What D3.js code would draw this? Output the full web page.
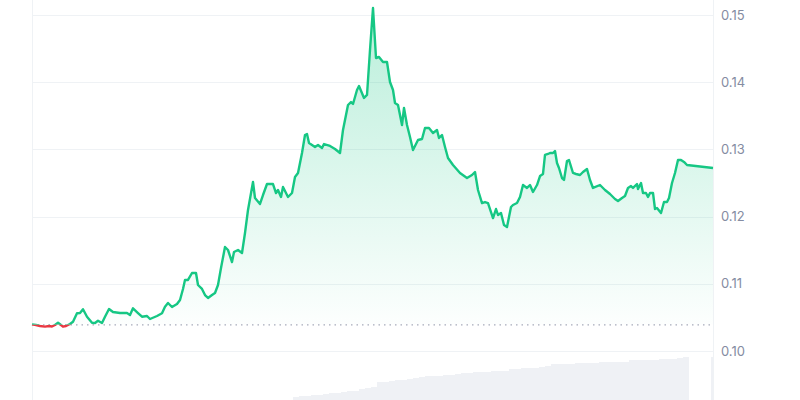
<!DOCTYPE html>
<html>
<head>
<meta charset="utf-8">
<script src="https://cdn.jsdelivr.net/npm/d3@7"></script>
<style>
  html, body { margin: 0; padding: 0; background: #fff; }
  svg { display: block; }
</style>
</head>
<body>
<div id="chart"></div>
<script>
// ---- data ----
const priceTimes = [0,4,8,13,17,20,23,26,29,31,34,36,38,41,45,48,51,55,60,63,66,70,73,77,81,88,95,98,101,106,110,115,118,125,130,133,136,140,145,148,151,153,156,160,164,166,170,173,176,180,183,186,189,193,196,200,202,206,210,213,216,221,223,228,231,235,241,244,246,249,251,256,260,263,266,270,273,275,277,283,286,290,292,298,303,308,311,316,319,321,325,327,332,335,338,341,344,347,351,355,358,361,363,366,370,372,375,378,381,386,390,393,397,401,405,407,410,413,416,421,428,435,440,443,446,450,453,456,461,464,466,469,472,475,479,481,485,488,491,495,498,501,505,508,511,513,516,518,521,523,525,527,530,532,535,537,541,544,548,551,555,558,561,568,573,578,583,586,590,593,596,599,601,605,606,609,611,614,616,618,621,623,625,629,632,635,637,640,643,646,649,652,655,681];
const priceValues = [0.10397,0.10387,0.10372,0.10362,0.10372,0.10365,0.10387,0.10421,0.10387,0.10362,
0.10372,0.10387,0.10402,0.10436,0.10561,0.10565,0.10621,0.10510,0.10421,0.10417,
0.10451,0.10417,0.10510,0.10625,0.10580,0.10565,0.10565,0.10536,0.10635,0.10565,
0.10510,0.10521,0.10476,0.10521,0.10561,0.10659,0.10714,0.10655,0.10699,0.10759,
0.10923,0.11057,0.11057,0.11161,0.11161,0.10982,0.10923,0.10833,0.10789,0.10833,
0.10863,0.10982,0.11235,0.11548,0.11503,0.11324,0.11473,0.11503,0.11458,0.11756,
0.12098,0.12515,0.12277,0.12188,0.12321,0.12485,0.12485,0.12351,0.12396,0.12292,
0.12440,0.12292,0.12351,0.12589,0.12649,0.12946,0.13214,0.13229,0.13095,0.13036,
0.13065,0.13021,0.13080,0.13051,0.13006,0.12946,0.13289,0.13661,0.13705,0.13676,
0.13884,0.13943,0.13765,0.13810,0.14479,0.15104,0.14360,0.14375,0.14301,0.14301,
0.14003,0.13884,0.13690,0.13661,0.13363,0.13616,0.13363,0.13185,0.12991,0.13140,
0.13155,0.13318,0.13318,0.13244,0.13289,0.13170,0.13214,0.13036,0.12872,0.12768,
0.12649,0.12574,0.12619,0.12664,0.12396,0.12202,0.12217,0.12202,0.11979,0.12113,
0.12024,0.12054,0.11875,0.11845,0.12143,0.12173,0.12202,0.12292,0.12470,0.12426,
0.12470,0.12366,0.12470,0.12604,0.12634,0.12917,0.12932,0.12946,0.12946,0.12976,
0.12798,0.12723,0.12574,0.12545,0.12827,0.12842,0.12649,0.12634,0.12619,0.12664,
0.12708,0.12545,0.12426,0.12470,0.12396,0.12336,0.12262,0.12232,0.12277,0.12307,
0.12426,0.12455,0.12426,0.12485,0.12411,0.12500,0.12351,0.12351,0.12292,0.12351,
0.12351,0.12113,0.12128,0.12054,0.12217,0.12217,0.12277,0.12500,0.12649,0.12842,
0.12842,0.12813,0.12768,0.12723];
const baselinePrice = 0.10390;
const yTickValues = [0.10, 0.11, 0.12, 0.13, 0.14, 0.15];
const yTickLabels = ["0.10", "0.11", "0.12", "0.13", "0.14", "0.15"];

const volumeTimes = [261,267,273,279,285,291,297,303,309,315,321,327,333,339,345,351,357,363,369,375,381,387,393,399,405,411,417,423,429,435,441,447,453,459,465,471,477,483,489,495,501,507,513,519,525,531,537,543,549,555,561,567,573,579,585,591,597,603,609,615,621,627,633,639,645,651,679];
const volumeValues = [3,4,4,5,5,6,7,7,8,9,9,11,12,13,18,18,19,20,20,21,22,23,24,24,24,25,25,26,27,27,28,28,28,29,29,29,31,31,32,32,32,33,34,36,36,36,36,37,37,37,37,38,38,38,38,38,40,40,40,40,40,41,41,41,42,43,43];

// ---- chart ----
const W = 800, H = 400;
const left = 32, right = 713;
const svg = d3.select("#chart").append("svg").attr("width", W).attr("height", H);

const x = d3.scaleLinear().domain([0, 681]).range([left, right]);
const y = d3.scaleLinear().domain([0.10, 0.15]).range([351, 15]);
const yv = d3.scaleLinear().domain([0, 45]).range([400, 355]);

const data = priceTimes.map((t, i) => ({ t, v: priceValues[i] }));

const defs = svg.append("defs");
const grad = defs.append("linearGradient").attr("id", "areaGrad")
  .attr("gradientUnits", "userSpaceOnUse").attr("x1", 0).attr("x2", 0)
  .attr("y1", y(0.151)).attr("y2", y(baselinePrice));
grad.append("stop").attr("offset", "0%").attr("stop-color", "#16c784").attr("stop-opacity", 0.3);
grad.append("stop").attr("offset", "100%").attr("stop-color", "#16c784").attr("stop-opacity", 0.01);

defs.append("clipPath").attr("id", "clipAbove").append("rect")
  .attr("x", 0).attr("y", 0).attr("width", W).attr("height", y(baselinePrice));
defs.append("clipPath").attr("id", "clipBelow").append("rect")
  .attr("x", 0).attr("y", y(baselinePrice)).attr("width", W).attr("height", H - y(baselinePrice));

// grid lines
const grid = svg.append("g");
grid.selectAll("line").data(yTickValues).join("line")
  .attr("x1", left).attr("x2", right)
  .attr("y1", d => Math.round(y(d)) + 0.5).attr("y2", d => Math.round(y(d)) + 0.5)
  .attr("stroke", "#eff2f5").attr("stroke-width", 1);
// vertical frame lines
svg.append("line").attr("x1", left + 0.5).attr("x2", left + 0.5).attr("y1", 0).attr("y2", H)
  .attr("stroke", "#eff2f5");
svg.append("line").attr("x1", right + 0.5).attr("x2", right + 0.5).attr("y1", 0).attr("y2", H)
  .attr("stroke", "#eff2f5");

// volume bars
svg.append("g").selectAll("rect").data(volumeTimes).join("rect")
  .attr("x", (t, i) => x(t))
  .attr("width", (t, i) => i === volumeTimes.length - 1 ? 2 : 6)
  .attr("y", (t, i) => yv(volumeValues[i]))
  .attr("height", (t, i) => yv(0) - yv(volumeValues[i]))
  .attr("fill", "#eff1f5");

// area
const area = d3.area().x(d => x(d.t)).y0(y(baselinePrice)).y1(d => y(d.v));
svg.append("path").datum(data).attr("d", area)
  .attr("fill", "url(#areaGrad)").attr("clip-path", "url(#clipAbove)");

// baseline dotted
svg.append("line").attr("x1", left).attr("x2", right)
  .attr("y1", y(baselinePrice)).attr("y2", y(baselinePrice))
  .attr("stroke", "#a6abba").attr("stroke-width", 1.3).attr("stroke-dasharray", "1.5,4");

// price line
const line = d3.line().x(d => x(d.t)).y(d => y(d.v));
svg.append("path").datum(data).attr("d", line)
  .attr("fill", "none").attr("stroke", "#16c784").attr("stroke-width", 2.4)
  .attr("stroke-linejoin", "round").attr("clip-path", "url(#clipAbove)");
svg.append("path").datum(data).attr("d", line)
  .attr("fill", "none").attr("stroke", "#ea3943").attr("stroke-width", 2.4)
  .attr("stroke-linejoin", "round").attr("clip-path", "url(#clipBelow)");

// right axis labels
const axis = d3.axisRight(y).tickValues(yTickValues)
  .tickFormat((d, i) => yTickLabels[i]).tickSize(0).tickPadding(0);
const ag = svg.append("g").attr("transform", `translate(${right + 8},0)`).call(axis);
ag.select(".domain").remove();
ag.selectAll("text").attr("font-family", "Inter, 'Noto Sans', sans-serif")
  .attr("font-size", 13).attr("fill", "#858ca2");
</script>
</body>
</html>
